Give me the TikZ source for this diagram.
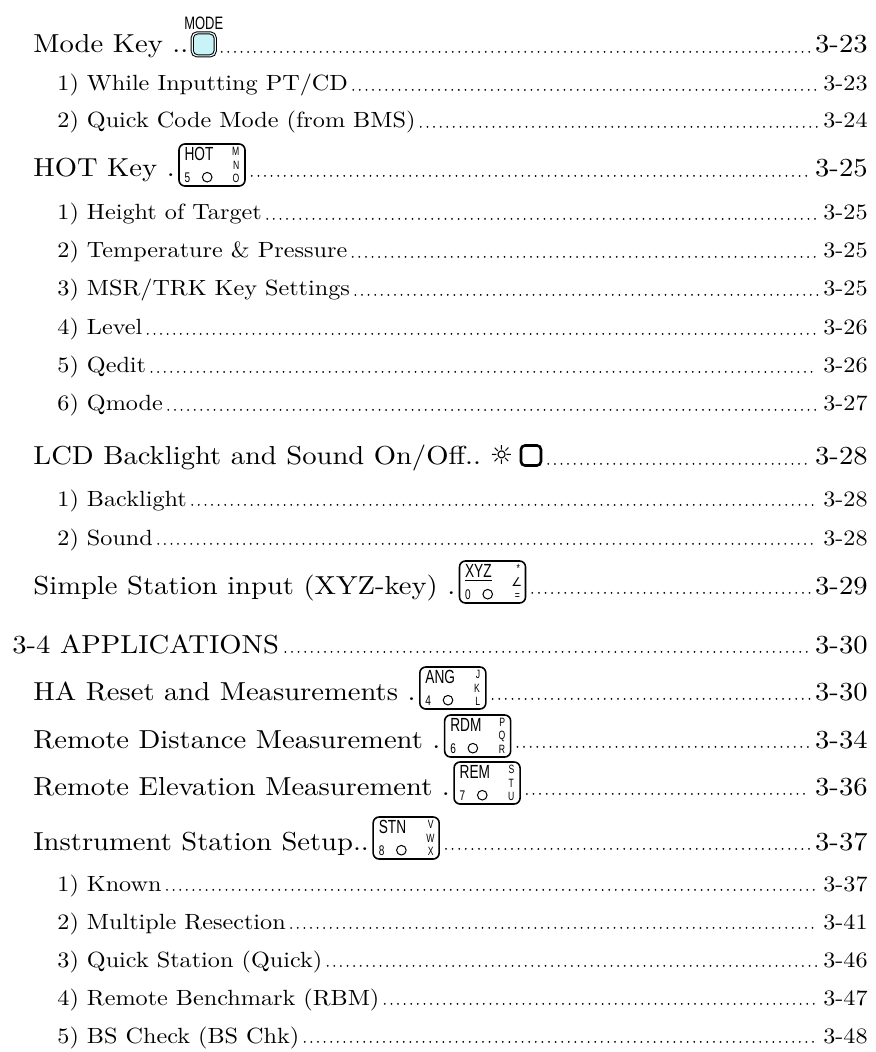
\documentclass[tikz,border=0pt]{standalone}
\usepackage{fontspec}
\setmainfont{lmroman10-regular.otf}[FakeStretch=1.1]
\newfontfamily\keyfont[FakeStretch=0.72]{Liberation Sans}
\newfontfamily\symfont{DejaVu Sans}
\usetikzlibrary{calc}
\definecolor{keycyan}{HTML}{C9F3F7}
\tikzset{
 toptxt/.style={anchor=base west, inner sep=0pt, font=\fontsize{13}{15}\selectfont},
 subtxt/.style={anchor=base west, inner sep=0pt, font=\fontsize{11}{13}\selectfont},
 toppg/.style={anchor=base east, inner sep=0pt, font=\fontsize{13}{15}\selectfont},
 subpg/.style={anchor=base east, inner sep=0pt, font=\fontsize{11}{13}\selectfont},
 leader/.style={line width=1.0pt, line cap=round, dash pattern=on 0pt off 3.3pt},
 keybox/.style={draw, line width=0.8pt, rounded corners=3pt, minimum width=33pt, minimum height=21pt, inner sep=0pt},
 keymain/.style={inner sep=0pt, font=\keyfont\fontsize{9.5}{9.5}\selectfont},
 keysmall/.style={inner sep=0pt, font=\keyfont\fontsize{6}{6}\selectfont},
 keydig/.style={inner sep=0pt, font=\keyfont\fontsize{7}{7}\selectfont},
 keycirc/.style={draw, circle, line width=0.5pt, minimum size=4.8pt, inner sep=0pt},
 modekey/.style={draw, line width=0.5pt, double=keycyan!40, double distance=0.6pt, fill=keycyan, rounded corners=2.5pt, minimum size=11.5pt, inner sep=0pt},
 modelabel/.style={inner sep=0pt, font=\keyfont\fontsize{9}{9}\selectfont},
 sunsym/.style={inner sep=0pt, font=\symfont\fontsize{13}{13}\selectfont},
 lcdkey/.style={draw, line width=1.3pt, rounded corners=2pt, minimum size=10pt, inner sep=0pt},
}
\newcommand{\tocsub}[4]{%
 \node[subtxt] (#1) at (57,#2) {#3};
 \node[subpg] (#1p) at (868,#2) {#4};
 \draw[leader] ([xshift=2.5pt,yshift=0.55pt]#1.base east) -- ([xshift=-2.5pt,yshift=0.55pt]#1p.base west);
}
\newcommand{\numkey}[7]{%
 \node[keybox, anchor=west] (#1) at #2 {};
 \node[keymain, anchor=north west] (#1m) at ([shift={(3pt,-2pt)}]#1.north west) {#3};
 \node[keydig, anchor=south west] (#1d) at ([shift={(3pt,2pt)}]#1.south west) {#4};
 \node[keycirc] (#1o) at ([shift={(14.5pt,4.8pt)}]#1.south west) {};
 \node[keysmall, anchor=north east] (#1a) at ([shift={(-3pt,-2pt)}]#1.north east) {#5};
 \node[keysmall] (#1b) at ([xshift=-4.8pt]#1.east) {#6};
 \node[keysmall, anchor=south east] (#1c) at ([shift={(-3pt,2pt)}]#1.south east) {#7};
}
\newcommand{\topleader}[3]{%
 \draw[leader] ($(#1.east |- #2.base)+(3pt,0.55pt)$) -- ($(#3.base west)+(-2.5pt,0.55pt)$);
}
\begin{document}
\begin{tikzpicture}[x=0.5pt, y=-0.5pt]
\useasboundingbox (0,0) rectangle (875,1052);

% Mode Key
\node[toptxt] (t1) at (33,53) {Mode Key ..};
\node[modekey, anchor=west] (k1) at ($(t1.base east)+(1.5pt,4.3pt)$) {};
\node[modelabel, anchor=south] (k1l) at ([yshift=1.2pt]k1.north) {MODE};
\node[toppg] (t1p) at (868,53) {3-23};
\topleader{k1}{t1}{t1p}
\tocsub{s1}{91}{1) While Inputting PT/CD}{3-23}
\tocsub{s2}{128}{2) Quick Code Mode (from BMS)}{3-24}

% HOT key
\node[toptxt] (t2) at (33,177) {HOT Key .};
\numkey{k2}{($(t2.base east)+(1.5pt,6pt)$)}{HOT}{5}{M}{N}{O}
\node[toppg] (t2p) at (868,177) {3-25};
\topleader{k2}{t2}{t2p}
\tocsub{s3}{220}{1) Height of Target}{3-25}
\tocsub{s4}{258}{2) Temperature \& Pressure}{3-25}
\tocsub{s5}{296}{3) MSR/TRK Key Settings}{3-25}
\tocsub{s6}{335}{4) Level}{3-26}
\tocsub{s7}{373}{5) Qedit}{3-26}
\tocsub{s8}{411}{6) Qmode}{3-27}

% LCD
\node[toptxt] (t3) at (33,465) {LCD Backlight and Sound On/Off..};
\node[sunsym, anchor=base west] (k3s) at ($(t3.base east)+(4pt,0)$) {☼};
\node[lcdkey, anchor=west] (k3) at ($(k3s.east)+(3pt,0)$) {};
\node[toppg] (t3p) at (868,465) {3-28};
\topleader{k3}{t3}{t3p}
\tocsub{s9}{506}{1) Backlight}{3-28}
\tocsub{s10}{545}{2) Sound}{3-28}

% Simple Station
\node[toptxt] (t4) at (33,594) {Simple Station input (XYZ-key) .};
\numkey{k4}{($(t4.base east)+(1.5pt,6pt)$)}{\underline{XYZ}}{0}{*}{{\symfont ∠}}{=}
\node[toppg] (t4p) at (868,594) {3-29};
\topleader{k4}{t4}{t4p}

% 3-4 APPLICATIONS
\node[toptxt] (c1) at (12,653) {3-4 APPLICATIONS};
\node[toppg] (c1p) at (868,653) {3-30};
\draw[leader] ([xshift=3pt,yshift=0.55pt]c1.base east) -- ([xshift=-2.5pt,yshift=0.55pt]c1p.base west);

\node[toptxt] (t5) at (33,700) {HA Reset and Measurements .};
\numkey{k5}{($(t5.base east)+(1.5pt,6pt)$)}{ANG}{4}{J}{K}{L}
\node[toppg] (t5p) at (868,700) {3-30};
\topleader{k5}{t5}{t5p}

\node[toptxt] (t6) at (33,748) {Remote Distance Measurement .};
\numkey{k6}{($(t6.base east)+(1.5pt,6pt)$)}{RDM}{6}{P}{Q}{R}
\node[toppg] (t6p) at (868,748) {3-34};
\topleader{k6}{t6}{t6p}

\node[toptxt] (t7) at (33,795) {Remote Elevation Measurement .};
\numkey{k7}{($(t7.base east)+(1.5pt,6pt)$)}{REM}{7}{S}{T}{U}
\node[toppg] (t7p) at (868,795) {3-36};
\topleader{k7}{t7}{t7p}

\node[toptxt] (t8) at (33,850) {Instrument Station Setup..};
\numkey{k8}{($(t8.base east)+(1.5pt,6pt)$)}{STN}{8}{V}{W}{X}
\node[toppg] (t8p) at (868,850) {3-37};
\topleader{k8}{t8}{t8p}
\tocsub{s11}{891}{1) Known}{3-37}
\tocsub{s12}{929}{2) Multiple Resection}{3-41}
\tocsub{s13}{967}{3) Quick Station (Quick)}{3-46}
\tocsub{s14}{1005}{4) Remote Benchmark (RBM)}{3-47}
\tocsub{s15}{1043}{5) BS Check (BS Chk)}{3-48}
\end{tikzpicture}
\end{document}
